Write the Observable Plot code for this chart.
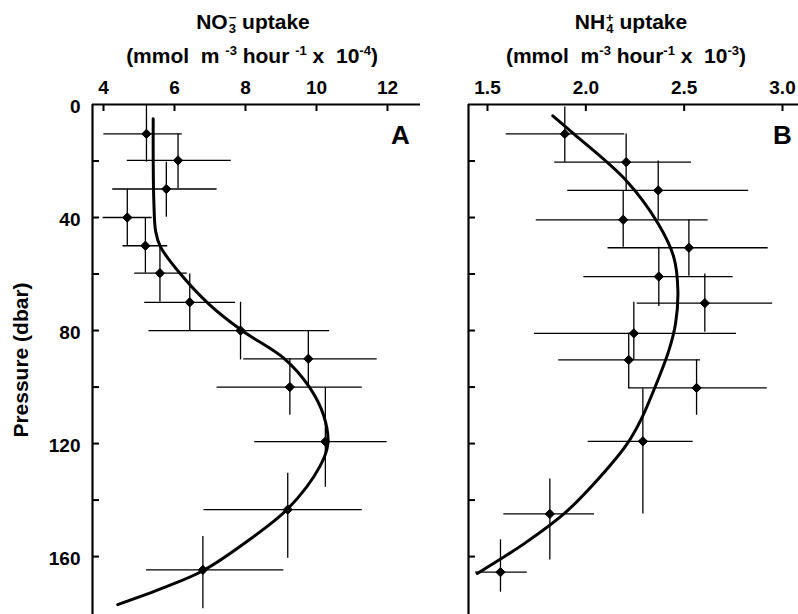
<!DOCTYPE html>
<html><head><meta charset="utf-8">
<script src="https://cdn.jsdelivr.net/npm/d3@7"></script>
<script src="https://cdn.jsdelivr.net/npm/@observablehq/plot@0.6"></script>
<style>
body{margin:0;background:#fff;}
#wrap{position:relative;width:798px;height:614px;overflow:hidden;font-family:"Liberation Sans",Arial,sans-serif;font-weight:bold;color:#000;background:#fff;}
.t{position:absolute;text-align:center;white-space:nowrap;font-size:21px;line-height:1;}
.plot{position:absolute;top:0;}
.sp{font-size:13px;position:relative;top:-8px;}
.st{display:inline-flex;flex-direction:column;vertical-align:7px;font-size:13px;line-height:11px;margin-left:1px;}
#ylab{position:absolute;left:21px;top:360px;transform:translate(-50%,-50%) rotate(-90deg);font-size:21px;white-space:nowrap;}
</style></head>
<body>
<div id="wrap">
  <div class="t" style="left:53px;width:400px;top:11px;">NO<span class="st"><span>&minus;</span><span>3</span></span> uptake</div>
  <div class="t" style="left:52px;width:400px;top:45px;">(mmol&nbsp; m <span class="sp">-3</span> hour <span class="sp">-1</span> x&nbsp; 10<span class="sp">-4</span>)</div>
  <div class="t" style="left:431px;width:400px;top:11px;">NH<span class="st"><span>+</span><span>4</span></span> uptake</div>
  <div class="t" style="left:426px;width:400px;top:45px;">(mmol&nbsp; m<span class="sp">-3</span> hour<span class="sp">-1</span> x&nbsp; 10<span class="sp">-3</span>)</div>
  <div id="ylab">Pressure (dbar)</div>
  <div id="pa" class="plot" style="left:0px;"></div>
  <div id="pb" class="plot" style="left:440px;"></div>
</div>
<script>
// ---- Panel A: NO3- uptake (x 1e-4) ----
const depthA     = [10.4, 19.8, 29.9, 40, 50, 59.7, 70, 80, 90, 100, 119.3, 143.4, 164.7];
const uptakeA    = [5.21, 6.10, 5.77, 4.67, 5.18, 5.59, 6.43, 7.86, 9.77, 9.25, 10.25, 9.19, 6.80];
const uptakeA_lo = [4.01, 4.67, 4.26, 3.99, 4.55, 4.88, 5.16, 5.28, 7.95, 7.20, 8.26, 6.83, 5.21];
const uptakeA_hi = [6.22, 7.60, 7.20, 5.37, 5.81, 6.36, 7.72, 10.37, 11.71, 11.29, 11.99, 11.29, 9.08];
const depthA_lo  = [0.4, 10.4, 20.4, 30, 40, 50, 60, 70, 80.3, 90, 100.3, 130.5, 152.9];
const depthA_hi  = [20.4, 29.8, 39.9, 50.2, 59.7, 70, 80, 90.4, 100.3, 110, 135.5, 160.6, 178.5];
const curveA_x     = [5.40, 5.40, 5.42, 5.47, 5.61, 6.17, 7.0, 7.9, 9.1, 9.8, 10.2, 10.32, 10.1, 9.2, 8.0, 6.8, 5.7, 4.4];
const curveA_depth = [5, 20, 35, 45, 50.5, 60, 71, 80, 90, 100, 110, 120, 128, 143, 155, 165, 171, 177];
const xTicksA = [4, 6, 8, 10, 12];

// ---- Panel B: NH4+ uptake (x 1e-3) ----
const depthB     = [10.4, 20.4, 30.4, 40.8, 50.7, 60.9, 70.3, 81, 90.4, 100.3, 119.2, 144.9, 165.5];
const uptakeB    = [1.893, 2.205, 2.368, 2.190, 2.524, 2.371, 2.605, 2.244, 2.218, 2.563, 2.290, 1.817, 1.566];
const uptakeB_lo = [1.595, 1.842, 1.908, 1.748, 2.113, 1.990, 2.261, 1.739, 1.862, 2.218, 2.012, 1.583, 1.439];
const uptakeB_hi = [2.198, 2.537, 2.828, 2.622, 2.927, 2.749, 2.950, 2.766, 2.583, 2.922, 2.546, 2.044, 1.702];
const depthB_lo  = [0.9, 10.4, 20, 30.4, 40.8, 50.5, 60, 70, 81, 90.4, 100.6, 132.5, 154.1];
const depthB_hi  = [20.4, 30.4, 40.8, 50.5, 60.8, 71.5, 80.6, 90.4, 100.6, 110, 144.9, 161.2, 172.6];
const curveB_x     = [1.832, 1.939, 2.205, 2.368, 2.447, 2.468, 2.456, 2.422, 2.345, 2.278, 2.210, 2.040, 1.888, 1.685, 1.448];
const curveB_depth = [4, 10.4, 26.9, 42.2, 54, 65.8, 77.6, 87.1, 101.2, 111.9, 120.1, 134.3, 144.9, 155.5, 166];
const xTicksB = [1.5, 2.0, 2.5, 3.0];

// ---- shared depth axis ----
const yTickLabels = [0, 40, 80, 120, 160];
const yTickMinor  = [20, 40, 60, 80, 100, 120, 140, 160];

const yDomain  = [0, 180.5];
const xDomainA = [3.69, 12.93];
const xDomainB = [1.4034, 3.0813];

const baseStyle = {fontFamily: '"Liberation Sans", Arial, sans-serif', fontSize: "19px", fontWeight: "bold", background: "transparent", color: "black", overflow: "visible"};

function panel({width, marginLeft, marginRight, xDomain, xTicks, fmt, depth, up, upLo, upHi, dLo, dHi, cx, cy, letter, letterDx, yLabels}) {
  const idx = d3.range(depth.length);
  const cidx = d3.range(cy.length);
  const marks = [
    Plot.ruleY([yDomain[0]], {strokeWidth: 2.2}),
    Plot.ruleX([xDomain[0]], {strokeWidth: 2.2}),
    Plot.axisX(xTicks, {anchor: "top", tickSize: -6, strokeWidth: 2, text: null, label: null}),
    Plot.axisX(xTicks, {anchor: "top", tickSize: 0, tickPadding: 11, label: null, tickFormat: fmt}),
    Plot.axisY(yTickMinor, {anchor: "left", tickSize: -7, strokeWidth: 2, text: null, label: null}),
    Plot.ruleY(idx, {y: i => depth[i], x1: i => upLo[i], x2: i => upHi[i], strokeWidth: 1.3}),
    Plot.ruleX(idx, {x: i => up[i], y1: i => dLo[i], y2: i => dHi[i], strokeWidth: 1.3}),
    Plot.line(cidx, {x: i => cx[i], y: i => cy[i], curve: "catmull-rom", strokeWidth: 3}),
    Plot.dot(idx, {x: i => up[i], y: i => depth[i], symbol: "diamond2", r: 4.2, fill: "black", stroke: "black", strokeWidth: 1}),
    Plot.text([letter], {text: d => d, frameAnchor: "top-right", dx: letterDx, dy: 31, textAnchor: "middle", lineAnchor: "middle", fontSize: 26, fontWeight: "bold"})
  ];
  if (yLabels) marks.push(Plot.axisY(yTickLabels, {anchor: "left", tickSize: 0, tickPadding: 12, dy: 2, label: null}));
  return Plot.plot({
    width, height: 614, marginLeft, marginRight, marginTop: 104, marginBottom: 0,
    style: baseStyle,
    x: {domain: xDomain},
    y: {domain: yDomain, reverse: true},
    marks
  });
}

document.getElementById("pa").append(panel({
  width: 430, marginLeft: 92, marginRight: 10, xDomain: xDomainA, xTicks: xTicksA, fmt: d => String(d),
  depth: depthA, up: uptakeA, upLo: uptakeA_lo, upHi: uptakeA_hi, dLo: depthA_lo, dHi: depthA_hi,
  cx: curveA_x, cy: curveA_depth, letter: "A", letterDx: -20, yLabels: true
}));
document.getElementById("pb").append(panel({
  width: 358, marginLeft: 28, marginRight: 0, xDomain: xDomainB, xTicks: xTicksB, fmt: d => d.toFixed(1),
  depth: depthB, up: uptakeB, upLo: uptakeB_lo, upHi: uptakeB_hi, dLo: depthB_lo, dHi: depthB_hi,
  cx: curveB_x, cy: curveB_depth, letter: "B", letterDx: -16, yLabels: false
}));
</script>
</body></html>
